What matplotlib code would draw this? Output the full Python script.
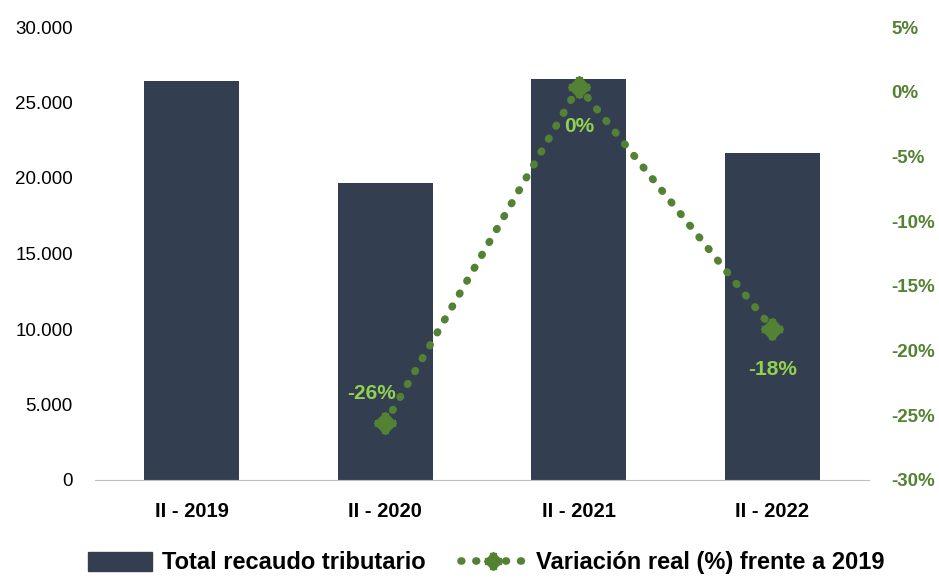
import matplotlib
matplotlib.use("Agg")
import matplotlib.pyplot as plt
from matplotlib import font_manager
from matplotlib.lines import Line2D
from matplotlib.patches import Patch

names = {f.name for f in font_manager.fontManager.ttflist}
narrow = "Liberation Sans Narrow" if "Liberation Sans Narrow" in names else "Liberation Sans"
plt.rcParams["font.family"] = [narrow, "DejaVu Sans"]

periodos = ["II - 2019", "II - 2020", "II - 2021", "II - 2022"]
recaudo = [26430, 19670, 26560, 21650]
variacion = [None, -25.6, 0.4, -18.3]
etiquetas = ["", "-26%", "0%", "-18%"]

bar_color = "#333F50"
line_color = "#548235"
label_color = "#92D050"
dots = (0, (0.1, 1.85))

fig = plt.figure(figsize=(9.39, 5.8), dpi=100)
ax = fig.add_axes([95 / 939, 100 / 580, 774 / 939, 453 / 580])
x = list(range(len(periodos)))
ax.bar(x, recaudo, width=0.49, color=bar_color, zorder=2)
ax.set_xlim(-0.5, 3.5)
ax.set_ylim(0, 30000)
ax.set_yticks(range(0, 30001, 5000))
ax.set_yticklabels([f"{v:,}".replace(",", ".") for v in range(0, 30001, 5000)], fontsize=13.5)
ax.set_xticks(x)
ax.set_xticklabels(periodos, fontsize=14.5, fontweight="bold")
for s in ["top", "right", "left"]:
    ax.spines[s].set_visible(False)
ax.spines["bottom"].set_color("#BFBFBF")
ax.tick_params(axis="y", length=0, pad=16)
ax.tick_params(axis="x", length=0, pad=16)

ax2 = ax.twinx()
ax2.set_ylim(-30, 5)
ax2.set_yticks(range(-30, 6, 5))
ax2.set_yticklabels([f"{v}%" for v in range(-30, 6, 5)], fontsize=13.5, fontweight="bold", color=line_color)
ax2.tick_params(axis="y", length=0, pad=16)
for s in ax2.spines.values():
    s.set_visible(False)
xs = [i for i, v in zip(x, variacion) if v is not None]
vs = [v for v in variacion if v is not None]
ax2.plot(xs, vs, color=line_color, linestyle=dots, linewidth=5.5, dash_capstyle="round", zorder=3)
ax2.plot(xs, vs, linestyle="none", marker="D", markersize=11, color=line_color, zorder=4)
ax2.plot(xs, vs, linestyle="none", marker="P", markersize=14, color=line_color, zorder=4)
offsets = {1: (-0.07, 2.3), 2: (0, -3.1), 3: (0, -3.2)}
for i, v in zip(xs, vs):
    dx, dy = offsets[i]
    ax2.text(i + dx, v + dy, etiquetas[i], ha="center", va="center", fontsize=15,
             fontweight="bold", color=label_color)

handles = [Patch(color=bar_color),
           (Line2D([0], [0], color=line_color, linestyle=dots, linewidth=5.5, dash_capstyle="round"),
            Line2D([0], [0], linestyle="none", marker="D", markersize=9, color=line_color),
            Line2D([0], [0], linestyle="none", marker="P", markersize=12, color=line_color))]
fig.legend(handles, ["Total recaudo tributario", "Variación real (%) frente a 2019"],
           loc="lower center", bbox_to_anchor=(0.5175, -0.027), ncol=2, frameon=False,
           prop={"family": [narrow, "DejaVu Sans"], "size": 17, "weight": "bold"},
           handlelength=2.7, handleheight=0.85, columnspacing=1.5, handletextpad=0.45)

fig.savefig("out.png", dpi=100)
